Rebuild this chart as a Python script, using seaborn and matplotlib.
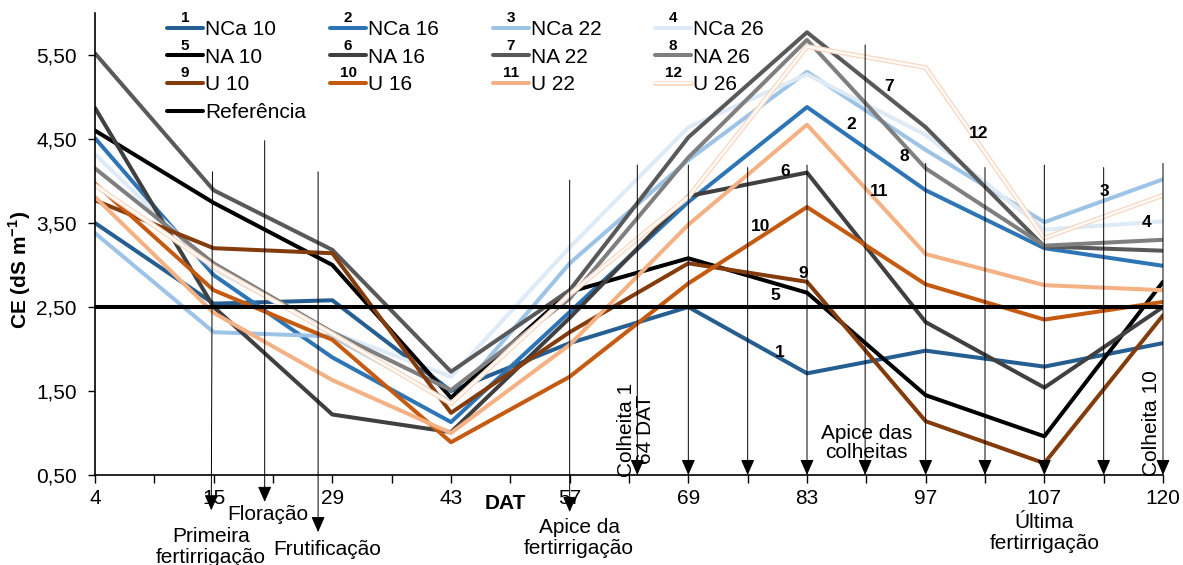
import numpy as np
import pandas as pd
import matplotlib
matplotlib.use('Agg')
import matplotlib.pyplot as plt
import matplotlib.patheffects as pe
from matplotlib.lines import Line2D
from matplotlib.text import Text
from matplotlib.legend_handler import HandlerLine2D
import seaborn as sns

# dias apos transplantio (eixo categorico)
dat = [4, 15, 29, 43, 57, 69, 83, 97, 107, 120]

nca10 = [3.50, 2.54, 2.58, 1.50, 2.07, 2.50, 1.71, 1.98, 1.79, 2.07]
nca16 = [4.51, 2.88, 1.90, 1.13, 2.44, 3.75, 4.88, 3.89, 3.20, 2.99]
nca22 = [3.38, 2.20, 2.15, 1.37, 3.02, 4.25, 5.30, 4.37, 3.51, 4.02]
nca26 = [4.32, 2.95, 2.20, 1.67, 3.21, 4.64, 5.27, 4.55, 3.42, 3.52]
na10 = [4.60, 3.74, 3.00, 1.42, 2.68, 3.08, 2.67, 1.45, 0.96, 2.80]
na16 = [4.87, 2.50, 1.22, 1.01, 2.37, 3.82, 4.10, 2.32, 1.54, 2.50]
na22 = [5.52, 3.89, 3.18, 1.73, 2.70, 4.52, 5.77, 4.64, 3.22, 3.17]
na26 = [4.15, 3.02, 2.20, 1.51, 2.60, 4.28, 5.68, 4.15, 3.23, 3.30]
u10 = [3.77, 3.20, 3.14, 1.24, 2.20, 3.02, 2.80, 1.14, 0.64, 2.40]
u16 = [3.97, 2.70, 2.11, 0.89, 1.67, 2.78, 3.69, 2.77, 2.35, 2.56]
u22 = [3.81, 2.43, 1.63, 1.00, 2.05, 3.48, 4.67, 3.13, 2.76, 2.70]
u26 = [3.95, 2.98, 2.18, 1.35, 2.65, 3.81, 5.60, 5.35, 3.32, 3.83]

nomes = ['NCa 10', 'NCa 16', 'NCa 22', 'NCa 26', 'NA 10', 'NA 16', 'NA 22', 'NA 26',
         'U 10', 'U 16', 'U 22', 'U 26']
series = [nca10, nca16, nca22, nca26, na10, na16, na22, na26, u10, u16, u22, u26]
cores = ['#255E91', '#2E75B6', '#9DC3E6', '#DEEBF7', '#000000', '#404040', '#595959', '#7F7F7F',
         '#843C0C', '#C55A11', '#F4B183', '#FBE5D6']
referencia = 2.5

# rotulos numericos sobre as linhas (posicao x em indice, y em CE)
rot_num = ['1', '2', '3', '4', '5', '6', '7', '8', '9', '10', '11', '12']
rot_x = [5.77, 6.37, 8.51, 8.86, 5.73, 5.82, 6.69, 6.82, 5.97, 5.61, 6.61, 7.45]
rot_y = [1.96, 4.67, 3.87, 3.51, 2.64, 4.11, 5.12, 4.29, 2.90, 3.46, 3.88, 4.57]

# setas de eventos: (x topo, y topo, x ponta, y ponta)
setas = [(0.99, 4.11, 0.98, 0.08), (1.43, 4.48, 1.43, 0.18), (1.88, 4.11, 1.88, -0.18),
         (4.0, 4.01, 4.0, 0.06), (4.57, 4.19, 4.57, 0.5), (5.0, 4.19, 5.0, 0.5),
         (5.5, 4.16, 5.5, 0.5), (6.0, 4.19, 6.0, 0.5), (6.49, 5.62, 6.49, 0.5),
         (7.0, 4.21, 7.0, 0.5), (7.5, 4.16, 7.5, 0.5), (8.0, 4.19, 8.0, 0.5),
         (8.5, 4.16, 8.5, 0.5), (9.0, 4.21, 9.0, 0.5)]

df = pd.DataFrame({'pos': np.tile(np.arange(len(dat)), len(nomes)),
                   'CE': np.concatenate(series),
                   'serie': np.repeat(nomes, len(dat))})

sns.set_style('ticks')
plt.rcParams['font.family'] = ['Liberation Sans', 'DejaVu Sans']
plt.rcParams['mathtext.fontset'] = 'custom'
plt.rcParams['mathtext.bf'] = 'Liberation Sans:bold'
plt.rcParams['text.color'] = 'black'
plt.rcParams['axes.labelcolor'] = 'black'
plt.rcParams['xtick.color'] = 'black'
plt.rcParams['ytick.color'] = 'black'

fig = plt.figure(figsize=(11.83, 5.65), dpi=100)
ax = fig.add_axes([0.0803, 0.1593, 0.9028, 0.8177])

fs = 15
linhas = []
for nome, cor in zip(nomes, cores):
    sub = df[df['serie'] == nome]
    sns.lineplot(data=sub, x='pos', y='CE', color=cor, linewidth=2.9, ax=ax, legend=False)
    ln = ax.lines[-1]
    if nome == 'U 26':
        ln.set_color('#FFFFFF')
        ln.set_linewidth(1.5)
        ln.set_path_effects([pe.Stroke(linewidth=3.6, foreground='#F9DAC6'), pe.Normal()])
    linhas.append(ln)

ax.axhline(referencia, color='black', linewidth=2.9)
ref_handle = Line2D([], [], color='black', linewidth=2.9)

for t, x, y in zip(rot_num, rot_x, rot_y):
    ax.text(x, y, t, fontsize=12.5, fontweight='bold', ha='center', va='center')

for x0, y0, x1, y1 in setas:
    ax.annotate('', xy=(x1, y1), xytext=(x0, y0), annotation_clip=False,
                arrowprops=dict(arrowstyle='-|>,head_length=0.8,head_width=0.35',
                                color='black', lw=0.7, shrinkA=0, shrinkB=0,
                                mutation_scale=12))

ax.text(0.976, -0.36, 'Primeira\nfertirrigação', ha='center', va='center', fontsize=fs, linespacing=1.1)
ax.text(1.456, 0.024, 'Floração', ha='center', va='center', fontsize=fs)
ax.text(1.953, -0.39, 'Frutificação', ha='center', va='center', fontsize=fs)
ax.text(4.08, -0.25, 'Apice da\nfertirrigação', ha='center', va='center', fontsize=fs, linespacing=1.1)
ax.text(4.56, 1.04, 'Colheita 1\n64 DAT', ha='center', va='center', fontsize=fs, rotation=90, linespacing=1.0)
ax.text(6.5, 0.88, 'Apice das\ncolheitas', ha='center', va='center', fontsize=fs, linespacing=1.05)
ax.text(8.0, -0.19, 'Última\nfertirrigação', ha='center', va='center', fontsize=fs, linespacing=1.1)
ax.text(8.90, 1.12, 'Colheita 10', ha='center', va='center', fontsize=fs, rotation=90)

ax.set_xlim(0, 9)
ax.set_ylim(0.5, 6.0)
ax.set_xticks(range(len(dat)))
ax.set_xticklabels([str(d) for d in dat], fontsize=fs)
ax.set_xticks(np.arange(0.5, 9, 1.0), minor=True)
yt = [0.5, 1.5, 2.5, 3.5, 4.5, 5.5]
ax.set_yticks(yt)
ax.set_yticklabels([f'{v:.2f}'.replace('.', ',') for v in yt], fontsize=fs)
ax.tick_params(axis='x', which='both', length=6, width=1, direction='out', pad=4)
ax.tick_params(axis='y', length=5, width=1, direction='out', pad=8)
sns.despine(ax=ax)
for s in ['left', 'bottom']:
    ax.spines[s].set_linewidth(1.2)
    ax.spines[s].set_color('black')

ax.set_xlabel('DAT', fontsize=fs, fontweight='bold')
ax.xaxis.set_label_coords(0.384, -0.042)
ax.set_ylabel(r'CE (dS m$^{\mathbf{-1}}$)', fontsize=fs, fontweight='bold')
ax.yaxis.set_label_coords(-0.058, 0.444)


class HandlerNumero(HandlerLine2D):
    def __init__(self, num, **kw):
        super().__init__(**kw)
        self.num = num

    def create_artists(self, legend, orig_handle, xdescent, ydescent, width, height, fontsize, trans):
        arts = super().create_artists(legend, orig_handle, xdescent, ydescent, width, height, fontsize, trans)
        if self.num:
            t = Text(width / 2 - xdescent, (height - ydescent) / 2 + 2, self.num,
                     fontsize=11, fontweight='bold', ha='center', va='bottom', transform=trans)
            arts.append(t)
        return arts


# legenda em 4 colunas com largura fixa
col_x = [167, 330, 493, 655]
grupos = [[0, 4, 8, 'ref'], [1, 5, 9], [2, 6, 10], [3, 7, 11]]
legs = []
for cx, grupo in zip(col_x, grupos):
    hs, ls, hmap = [], [], {}
    for g in grupo:
        if g == 'ref':
            h = ref_handle
            hmap[h] = HandlerNumero('')
            ls.append('Referência')
        else:
            h = linhas[g]
            hmap[h] = HandlerNumero(rot_num[g])
            ls.append(nomes[g])
        hs.append(h)
    lg = ax.legend(hs, ls, handler_map=hmap, loc='upper left', frameon=False,
                   bbox_to_anchor=(cx / 1183, 1 - 20 / 565), bbox_transform=fig.transFigure,
                   fontsize=fs, handlelength=1.73, handletextpad=0.1, labelspacing=0.42,
                   borderpad=0, borderaxespad=0)
    legs.append(lg)
for lg in legs[:-1]:
    ax.add_artist(lg)

fig.savefig('out.png', dpi=100)
